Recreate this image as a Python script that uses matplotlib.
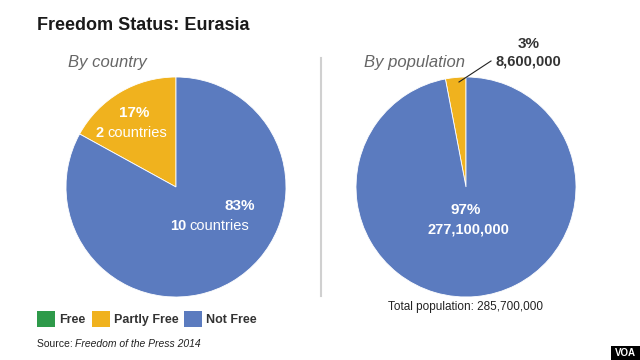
import matplotlib.pyplot as plt
from matplotlib.patches import Rectangle

plt.rcParams['font.family'] = ['Liberation Sans', 'DejaVu Sans']

# data
statuses = ['Free', 'Partly Free', 'Not Free']
colors = ['#2e9a4a', '#f0b21e', '#5b7bbf']
country_pct = [0, 17, 83]
country_counts = [0, 2, 10]
pop_pct = [0, 3, 97]
pop_values = ['0', '8,600,000', '277,100,000']
total_pop = '285,700,000'

fig = plt.figure(figsize=(6.4, 3.6), dpi=100)
fig.patch.set_facecolor('white')

W, H = 640, 360


def pie_axes(cx, cy, r):
    ax = fig.add_axes([(cx - r) / W, (H - cy - r) / H, 2 * r / W, 2 * r / H])
    ax.axis('off')
    return ax


# left pie: by country
ax1 = pie_axes(176, 187, 110)
ax1.pie(country_pct[1:], colors=colors[1:], startangle=90, counterclock=True,
        radius=1, wedgeprops=dict(edgecolor='white', linewidth=0.6))
ax1.set_xlim(-1, 1)
ax1.set_ylim(-1, 1)

# right pie: by population
ax2 = pie_axes(466, 187, 110)
ax2.pie(pop_pct[1:], colors=colors[1:], startangle=90, counterclock=True,
        radius=1, wedgeprops=dict(edgecolor='white', linewidth=0.6))
ax2.set_xlim(-1, 1)
ax2.set_ylim(-1, 1)


def px(x, y):
    return x / W, 1 - y / H


# title and subtitles
fig.text(*px(37, 25), 'Freedom Status: Eurasia', fontsize=13, fontweight='bold',
         color='#1a1a1a', va='center', ha='left')
fig.text(*px(68, 62), 'By country', fontsize=12, style='italic', color='#666666',
         va='center', ha='left')
fig.text(*px(364, 62), 'By population', fontsize=12, style='italic', color='#666666',
         va='center', ha='left')

# divider
fig.add_artist(plt.Line2D([321 / W, 321 / W], [1 - 58 / H, 1 - 296 / H],
                          color='#d0d0d0', linewidth=1.5))

# left pie labels
fig.text(*px(134, 113), f'{country_pct[1]}%', fontsize=11, fontweight='bold',
         color='white', ha='center', va='center')
fig.text(*px(104, 133), f'{country_counts[1]}', fontsize=10.5, fontweight='bold',
         color='white', ha='right', va='center')
fig.text(*px(107, 133), 'countries', fontsize=10.5, color='white',
         ha='left', va='center')
fig.text(*px(240, 206), f'{country_pct[2]}%', fontsize=11, fontweight='bold',
         color='white', ha='center', va='center')
fig.text(*px(186, 226), f'{country_counts[2]}', fontsize=10.5, fontweight='bold',
         color='white', ha='right', va='center')
fig.text(*px(189, 226), 'countries', fontsize=10.5, color='white',
         ha='left', va='center')

# right pie labels
fig.text(*px(466, 210), f'{pop_pct[2]}%', fontsize=11, fontweight='bold',
         color='white', ha='center', va='center')
fig.text(*px(468, 229), pop_values[2], fontsize=10.5, fontweight='bold',
         color='white', ha='center', va='center')
fig.text(*px(529, 44), f'{pop_pct[1]}%', fontsize=11, fontweight='bold',
         color='#333333', ha='center', va='center')
fig.text(*px(528, 62), pop_values[1], fontsize=10.5, fontweight='bold',
         color='#333333', ha='center', va='center')
fig.add_artist(plt.Line2D([459 / W, 491 / W], [1 - 82 / H, 1 - 61 / H],
                          color='#222222', linewidth=0.8))

fig.text(*px(466, 307), f'Total population: {total_pop}', fontsize=8.5,
         color='#222222', ha='center', va='center')

# legend
leg_x = [37, 92, 184]
for x, c, s in zip(leg_x, colors, statuses):
    fig.add_artist(Rectangle((x / W, 1 - 327 / H), 18 / W, 16 / H,
                             facecolor=c, edgecolor='none'))
    fig.text((x + 22) / W, 1 - 320 / H, s, fontsize=9, fontweight='bold',
             color='#333333', ha='left', va='center')

# source
fig.text(*px(37, 344), 'Source: ', fontsize=7.5, color='#222222',
         ha='left', va='center')
fig.text(*px(75, 344), 'Freedom of the Press 2014', fontsize=7.5, style='italic',
         color='#222222', ha='left', va='center')

# logo
fig.add_artist(Rectangle((611 / W, 0), 29 / W, 14 / H, facecolor='black',
                         edgecolor='none'))
fig.text(625.5 / W, 7 / H, 'VOA', fontsize=7, fontweight='bold', color='white',
         ha='center', va='center')

fig.savefig('out.png', dpi=100)
